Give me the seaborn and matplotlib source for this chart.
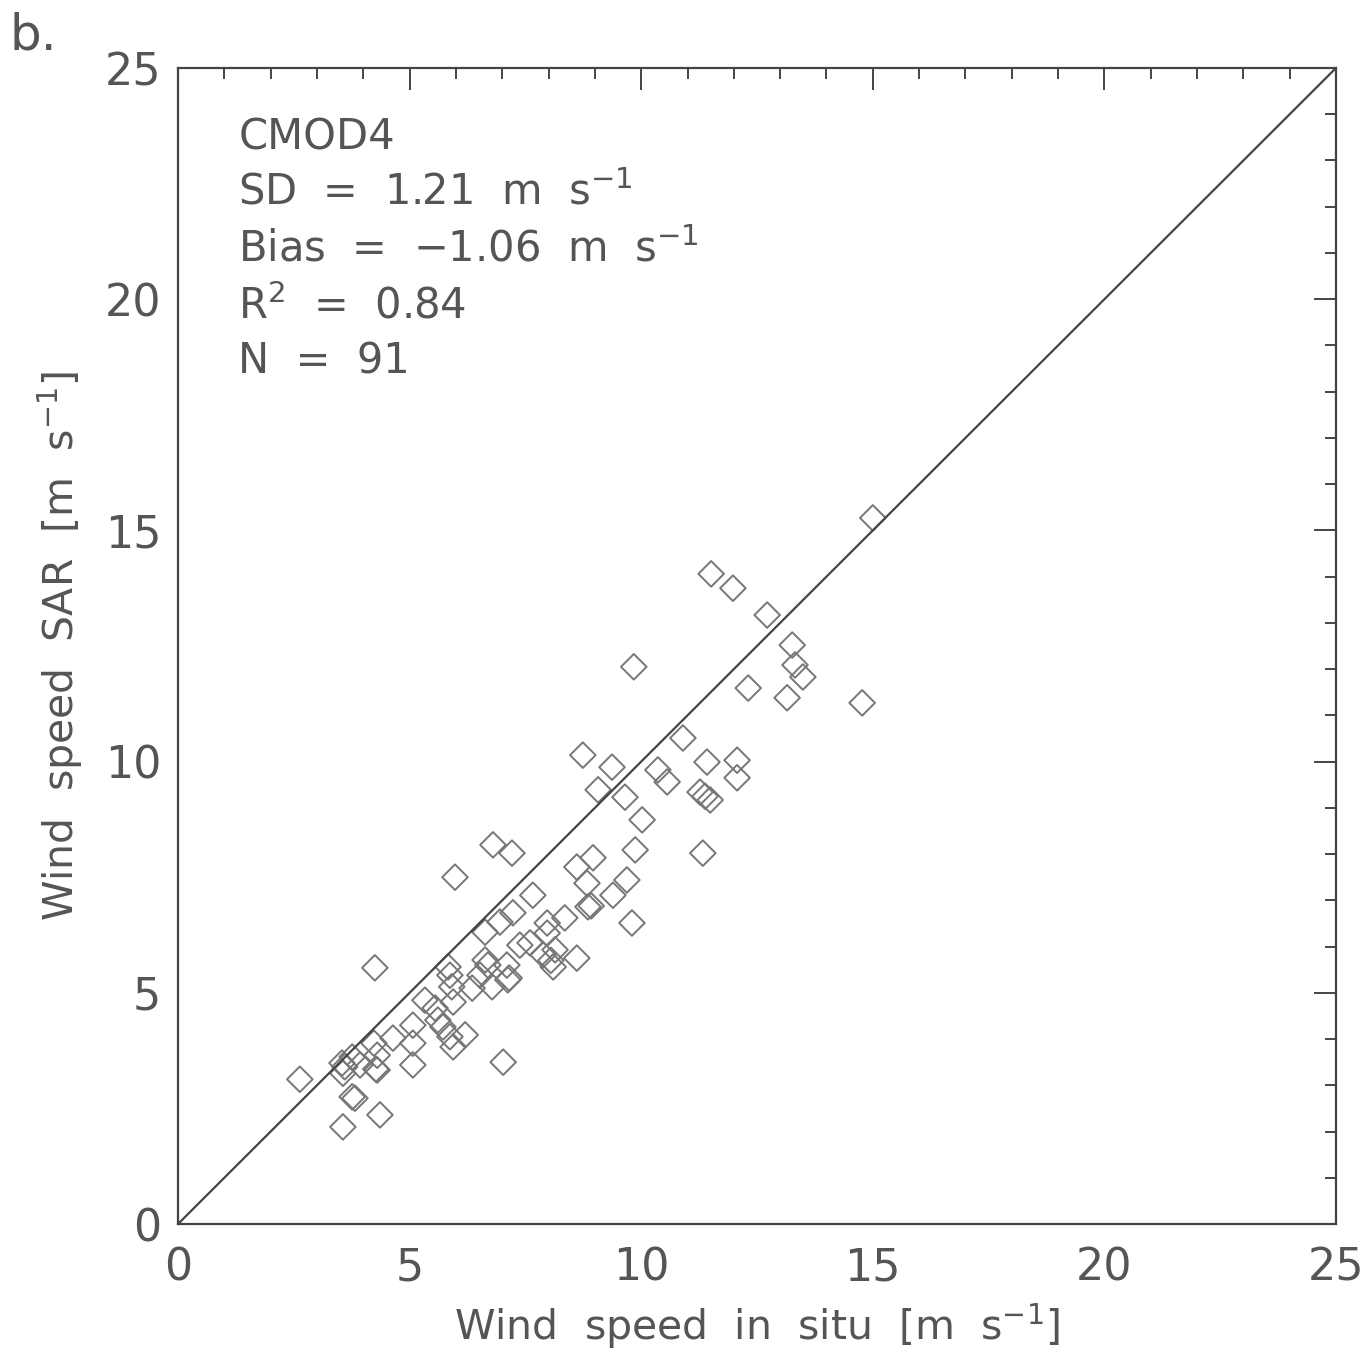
import numpy as np
import pandas as pd
import matplotlib
matplotlib.use("Agg")
import matplotlib.pyplot as plt
import seaborn as sns
from matplotlib.ticker import MultipleLocator

# ---- data ----
wind_insitu = [2.63, 3.54, 3.56, 3.76, 3.93, 4.23, 4.30, 4.30, 4.64, 5.07,
               5.07, 5.07, 3.76, 3.82, 4.36, 3.56, 4.25, 5.33, 5.55, 5.61,
               5.72, 5.87, 5.94, 6.20, 5.83, 5.87, 5.91, 5.94, 6.35, 6.52,
               6.63, 6.69, 6.78, 7.10, 7.12, 7.02, 7.38, 8.10, 5.98, 6.80,
               7.21, 7.66, 8.61, 8.96, 8.83, 8.85, 8.92, 6.63, 6.95, 7.23,
               7.97, 8.35, 7.97, 7.60, 7.88, 8.14, 8.61, 8.74, 9.37, 9.07,
               9.65, 10.36, 10.56, 11.42, 11.27, 11.38, 11.49, 10.02, 9.87, 11.33,
               9.69, 9.39, 9.80, 10.90, 12.07, 12.07, 11.98, 12.72, 13.26, 13.32,
               13.49, 12.31, 13.15, 14.77, 11.51, 9.84, 15.00, 3.60, 8.05, 7.15,
               4.27]
wind_sar = [3.13, 3.48, 3.26, 3.61, 3.44, 3.91, 3.65, 3.33, 4.02, 4.30,
            3.91, 3.44, 2.75, 2.72, 2.36, 2.10, 5.54, 4.84, 4.67, 4.41,
            4.26, 4.05, 3.83, 4.09, 5.56, 5.38, 5.13, 4.80, 5.10, 5.38,
            5.71, 5.60, 5.13, 5.60, 5.28, 3.50, 6.03, 5.56, 7.50, 8.20,
            8.02, 7.11, 7.72, 7.92, 7.37, 6.86, 6.88, 6.31, 6.53, 6.73,
            6.51, 6.62, 6.29, 6.08, 5.82, 5.93, 5.75, 10.14, 9.88, 9.39,
            9.23, 9.82, 9.56, 9.99, 9.34, 9.25, 9.17, 8.74, 8.09, 8.02,
            7.44, 7.11, 6.51, 10.51, 10.03, 9.65, 13.75, 13.17, 12.52, 12.09,
            11.83, 11.59, 11.38, 11.27, 14.06, 12.05, 15.27, 3.40, 5.70, 5.32,
            3.35]
x_ticks = [0, 5, 10, 15, 20, 25]
y_ticks = [0, 5, 10, 15, 20, 25]
stats_lines = ["CMOD4",
               "SD  =  1.21  m  s$^{-1}$",
               "Bias  =  \u22121.06  m  s$^{-1}$",
               "R$^2$  =  0.84",
               "N  =  91"]
stats_y = [23.49, 22.30, 21.07, 19.84, 18.65]

df = pd.DataFrame({"insitu": wind_insitu, "sar": wind_sar})

sns.set_style("white")
plt.rcParams['font.family'] = ['DejaVu Sans']
plt.rcParams['mathtext.fontset'] = 'dejavusans'

W, H = 1369, 1358
fig = plt.figure(figsize=(W / 100, H / 100), dpi=100)
ax = fig.add_axes([178 / W, 1 - 1224 / H, (1336 - 178) / W, (1224 - 68) / H])

txt_col = "#555555"
line_col = "#444444"

sns.lineplot(x=[0, 25], y=[0, 25], ax=ax, color=line_col, linewidth=1.6)
sns.scatterplot(data=df, x="insitu", y="sar", ax=ax, marker="D", s=170,
                facecolor="none", edgecolor="#777777", linewidth=1.4)

ax.set_xlim(0, 25)
ax.set_ylim(0, 25)
ax.set_xticks(x_ticks)
ax.set_yticks(y_ticks)
ax.xaxis.set_minor_locator(MultipleLocator(1))
ax.yaxis.set_minor_locator(MultipleLocator(1))
ax.tick_params(which="both", direction="in", top=True, right=True,
               color=line_col, width=1.4)
ax.tick_params(which="major", length=16, labelsize=32, labelcolor=txt_col)
ax.tick_params(axis="x", which="major", pad=16)
ax.tick_params(axis="y", which="major", pad=12)
ax.tick_params(which="minor", length=8)
for sp in ax.spines.values():
    sp.set_color(line_col)
    sp.set_linewidth(1.6)

ax.set_xlabel("Wind  speed  in  situ  [m  s$^{-1}$]", fontsize=29.5, color=txt_col, labelpad=9)
ax.set_ylabel("Wind  speed  SAR  [m  s$^{-1}$]", fontsize=29.5, color=txt_col, labelpad=14)

for t, yy in zip(stats_lines, stats_y):
    ax.text(1.3, yy, t, fontsize=30, color=txt_col, va="center", ha="left")

fig.text(10 / W, 1 - 36 / H, "b.", fontsize=36, color=txt_col, va="center", ha="left")

fig.savefig("out.png", dpi=100)
